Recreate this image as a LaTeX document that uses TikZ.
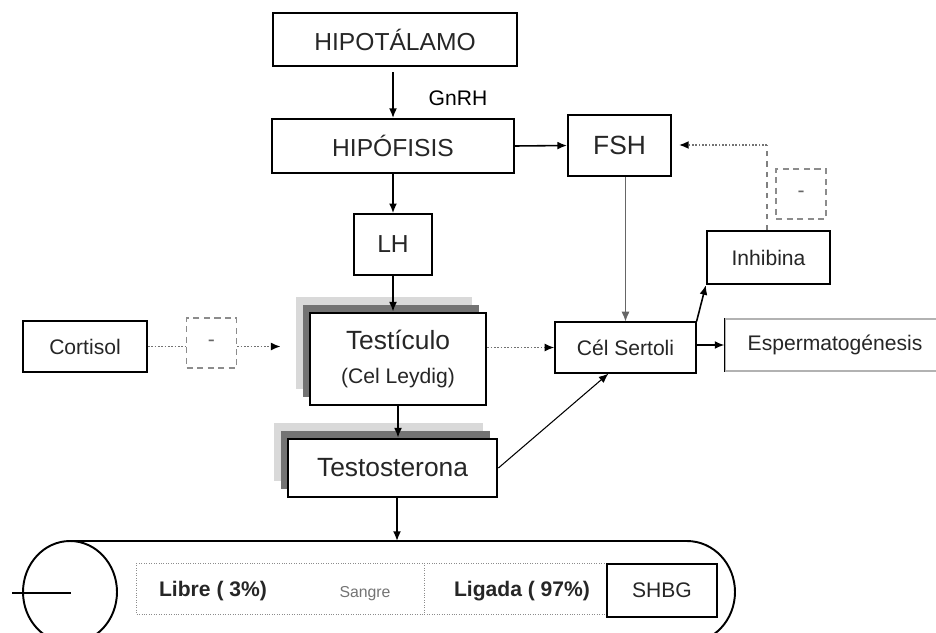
\documentclass[tikz,border=0pt]{standalone}
\usepackage{fontspec}
\setmainfont{Liberation Sans}
\usetikzlibrary{shadows,calc,arrows.meta}

\begin{document}
\begin{tikzpicture}[>={Latex[length=5.5pt,width=4.5pt]}, x=0.02cm, y=-0.02cm]

\tikzset{%
every box/.style={
rectangle,
draw,
line width=1.1pt,
inner sep=0pt,
fill=white,
text=black!85
},
big text/.style={font=\fontsize{14}{16}\selectfont},
small text/.style={font=\fontsize{12}{14}\selectfont},
bold text/.style={font=\fontsize{12}{14}\selectfont\bfseries, text=black!85},
minus box/.style={
draw=black!45,
dash pattern=on 3.5pt off 2.5pt,
line width=0.9pt,
minimum width=1cm,
minimum height=1cm,
font=\fontsize{12}{14}\selectfont,
text=black!60
},
layered/.style={
general shadow={fill=black!15, shadow xshift=-0.28cm, shadow yshift=0.32cm},
general shadow={fill=black!55, shadow xshift=-0.14cm, shadow yshift=0.16cm}
},
link/.style={->, line width=0.9pt},
weak link/.style={-{Latex[length=5.5pt,width=4.5pt,color=black]}, densely dotted, line width=0.9pt, black!55},
}

\useasboundingbox (0,0) rectangle (936,632);
\clip (0,0) rectangle (936,632);

% Blood vessel with free and bound testosterone
\coordinate (tubetop) at (397,541);
\draw [line width=1.1pt] (70,541) -- (687,541) arc [start angle=90, end angle=-90, x radius=0.96cm, y radius=1.02cm] -- (70,643);
\draw [line width=1.1pt, fill=white] (70,592) ellipse [x radius=0.94cm, y radius=1.02cm];
\draw [line width=1pt] (12,593) -- (71,593);
\draw [densely dotted, black!45] (136,563) rectangle (607,614);
\draw [densely dotted, black!45] (424,563) -- (424,614);
\node [bold text] (libre) at (213,591) {Libre ( 3\%)};
\node [font=\fontsize{9}{11}\selectfont, text=black!55] (sangre) at (365,594) {Sangre};
\node [bold text] (ligada) at (522,591) {Ligada ( 97\%)};
\node [every box, small text, minimum width=2.2cm, minimum height=1.06cm] (shbg) at (662,590.5) {SHBG};

% Axis boxes
\node [every box, big text, minimum width=4.88cm, minimum height=1.06cm] (hipotalamo) at (395,39.5) {HIPOTÁLAMO};
\node [every box, big text, minimum width=4.84cm, minimum height=1.08cm] (hipofisis) at (393,146) {HIPÓFISIS};
\node [every box, font=\fontsize{15}{17}\selectfont, minimum width=2.06cm, minimum height=1.22cm] (fsh) at (619.5,145.5) {FSH};
\node [every box, big text, line width=0.9pt, minimum width=1.56cm, minimum height=1.22cm] (lh) at (393,244.5) {LH};
\node [small text] (gnrh) at (458,98) {GnRH};

% Testis and its product
\node [every box, layered, line width=1.6pt, minimum width=3.52cm, minimum height=1.84cm, align=center, font=\fontsize{12}{19}\selectfont] (testiculo) at (398,359) {{\fontsize{15}{19}\selectfont Testículo}\\(Cel Leydig)};
\node [every box, layered, line width=1.6pt, font=\fontsize{15}{17}\selectfont, minimum width=4.18cm, minimum height=1.16cm] (testosterona) at (392.5,468) {Testosterona};

% Side boxes
\node [every box, small text, minimum width=2.48cm, minimum height=1.02cm] (cortisol) at (85,346.5) {Cortisol};
\node [minus box] (menos1) at (211.5,343) {-};
\node [every box, small text, line width=0.7pt, minimum width=2.82cm, minimum height=1.02cm] (sertoli) at (625.5,347.5) {Cél Sertoli};
\node [every box, small text, draw=black!30, line width=0.7pt, minimum width=4.4cm, minimum height=1.04cm] (esperma) at (835,345) {Espermatogénesis};
\draw [line width=0.9pt] (esperma.north west) -- (esperma.south west);
\node [every box, small text, line width=1.3pt, minimum width=2.46cm, minimum height=1.06cm] (inhibina) at (768.5,257.5) {Inhibina};
\node [minus box] (menos2) at (801,194) {-};

% Main arrows
\draw [link, shorten <=3pt] (hipotalamo.south -| hipofisis.north) -- (hipofisis.north);
\draw [link] (hipofisis.east) -- (fsh.west);
\draw [link] (hipofisis.south) -- (lh.north);
\draw [link] (lh.south) -- (lh.south |- testiculo.north);
\draw [link] (testiculo.south) -- (testiculo.south |- testosterona.north);
\draw [link] (testosterona.south -| tubetop) -- (tubetop);
\draw [link, line width=0.6pt] (testosterona.east) -- ($(sertoli.south west)!0.38!(sertoli.south east)$);
\draw [link, line width=0.5pt, black!60] (fsh.south -| sertoli.north) -- (sertoli.north);
\draw [link] (sertoli.north east) -- (inhibina.south west);
\draw [link] (sertoli.east |- esperma.west) -- (esperma.west);

% Feedback and inhibition
\coordinate (giro) at (767,145);
\draw [dashed, black!50, line width=0.8pt] (inhibina.north -| giro) -- (giro);
\draw [weak link, shorten >=0.14cm] (giro) -- (giro -| fsh.east);
\draw [weak link] (testiculo.east |- sertoli.west) -- (sertoli.west);
\draw [densely dotted, black!55, line width=0.9pt] (cortisol.east) -- (cortisol.east -| menos1.west);
\draw [weak link, shorten >=0.56cm] (menos1.east |- cortisol.east) -- (testiculo.west |- cortisol.east);

\end{tikzpicture}
\end{document}
